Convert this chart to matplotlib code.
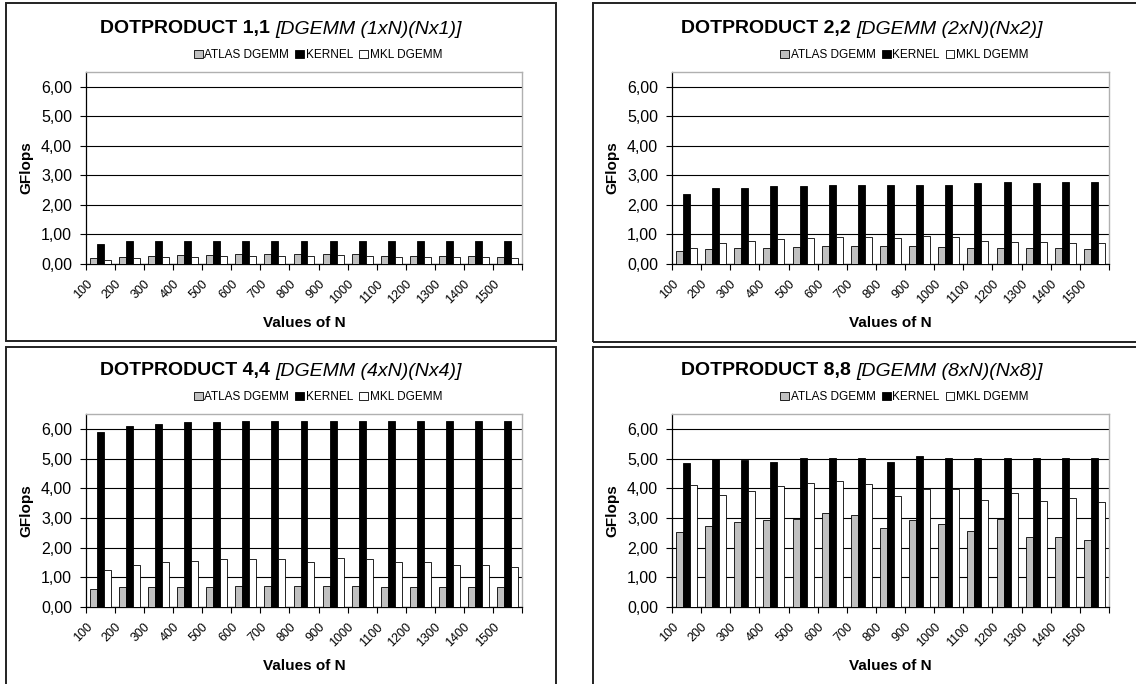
import matplotlib
matplotlib.use("Agg")
import matplotlib.pyplot as plt
from matplotlib.patches import Rectangle, Patch
from matplotlib.ticker import FuncFormatter, FixedLocator
from matplotlib.transforms import ScaledTranslation
import numpy as np

plt.rcParams['font.family'] = ['Liberation Sans', 'DejaVu Sans']

n_labels = ["100", "200", "300", "400", "500", "600", "700", "800",
            "900", "1000", "1100", "1200", "1300", "1400", "1500"]
series_names = ["ATLAS DGEMM", "KERNEL", "MKL DGEMM"]
series_colors = ["#c0c0c0", "#000000", "#ffffff"]

bold_titles = ["DOTPRODUCT 1,1", "DOTPRODUCT 2,2", "DOTPRODUCT 4,4", "DOTPRODUCT 8,8"]
italic_titles = ["[DGEMM (1xN)(Nx1)]", "[DGEMM (2xN)(Nx2)]",
                 "[DGEMM (4xN)(Nx4)]", "[DGEMM (8xN)(Nx8)]"]

atlas_1 = [0.19, 0.25, 0.27, 0.30, 0.31, 0.34, 0.34, 0.34, 0.34, 0.34, 0.28, 0.28, 0.28, 0.27, 0.25]
kernel_1 = [0.69, 0.77, 0.77, 0.79, 0.79, 0.79, 0.79, 0.79, 0.79, 0.79, 0.79, 0.79, 0.79, 0.79, 0.79]
mkl_1 = [0.15, 0.20, 0.24, 0.25, 0.27, 0.28, 0.28, 0.28, 0.30, 0.28, 0.24, 0.24, 0.23, 0.23, 0.20]

atlas_2 = [0.43, 0.51, 0.53, 0.55, 0.56, 0.61, 0.61, 0.60, 0.60, 0.59, 0.54, 0.55, 0.54, 0.53, 0.52]
kernel_2 = [2.36, 2.56, 2.58, 2.64, 2.64, 2.67, 2.66, 2.69, 2.67, 2.69, 2.74, 2.76, 2.75, 2.76, 2.76]
mkl_2 = [0.54, 0.72, 0.77, 0.83, 0.88, 0.91, 0.91, 0.89, 0.94, 0.92, 0.79, 0.76, 0.76, 0.72, 0.70]

atlas_4 = [0.61, 0.67, 0.67, 0.69, 0.69, 0.71, 0.70, 0.70, 0.70, 0.70, 0.69, 0.69, 0.68, 0.68, 0.67]
kernel_4 = [5.91, 6.11, 6.18, 6.23, 6.24, 6.25, 6.26, 6.27, 6.27, 6.28, 6.28, 6.28, 6.28, 6.28, 6.28]
mkl_4 = [1.26, 1.43, 1.51, 1.56, 1.61, 1.61, 1.62, 1.53, 1.64, 1.62, 1.50, 1.50, 1.43, 1.40, 1.34]

atlas_8 = [2.53, 2.74, 2.86, 2.92, 2.98, 3.16, 3.10, 2.65, 2.93, 2.81, 2.56, 2.98, 2.37, 2.35, 2.26]
kernel_8 = [4.85, 5.00, 4.94, 4.87, 5.01, 5.01, 5.01, 4.87, 5.07, 5.01, 5.01, 5.01, 5.01, 5.01, 5.01]
mkl_8 = [4.11, 3.78, 3.91, 4.09, 4.16, 4.23, 4.14, 3.74, 3.97, 3.97, 3.61, 3.84, 3.56, 3.66, 3.52]

panels = [
    (atlas_1, kernel_1, mkl_1),
    (atlas_2, kernel_2, mkl_2),
    (atlas_4, kernel_4, mkl_4),
    (atlas_8, kernel_8, mkl_8),
]

W, H = 1136, 684
fig = plt.figure(figsize=(W / 100, H / 100), dpi=100)

# plot areas (pixel boxes: left, top, right, bottom) and chart frames
plot_boxes = [(86, 72, 522, 264), (672, 72, 1109, 264),
              (86, 414, 522, 607), (672, 414, 1109, 607)]
frames = [(6, 3, 556, 341), (593, 3, 1150, 342),
          (6, 347, 556, 700), (593, 347, 1150, 700)]
title_cx = [281, 862, 281, 862]


def fx(px):
    return px / W


def fy(py):
    return 1 - py / H


for (l, t, r, b) in frames:
    fig.add_artist(Rectangle((fx(l), fy(b)), fx(r - l), (b - t) / H,
                             transform=fig.transFigure, fill=False,
                             edgecolor="#222222", linewidth=1.4, clip_on=False))

comma_fmt = FuncFormatter(lambda v, pos: f"{v:.2f}".replace(".", ","))
x = np.arange(len(n_labels))
bw = 0.24
offsets = [-bw, 0.0, bw]

title_pairs = []
for k, (data, (l, t, r, b)) in enumerate(zip(panels, plot_boxes)):
    ax = fig.add_axes([fx(l), fy(b), fx(r - l), (b - t) / H])
    for s, vals in enumerate(data):
        ax.bar(x + offsets[s], vals, width=bw, color=series_colors[s],
               edgecolor="black", linewidth=0.6, zorder=3)
    ax.set_xlim(-0.5, len(n_labels) - 0.5)
    ax.set_ylim(0, 6.5)
    ax.yaxis.set_major_locator(FixedLocator([0, 1, 2, 3, 4, 5, 6]))
    ax.yaxis.set_major_formatter(comma_fmt)
    ax.grid(axis="y", color="black", linewidth=0.8, zorder=0)
    ax.set_axisbelow(True)
    ax.xaxis.set_major_locator(FixedLocator(np.arange(len(n_labels) + 1) - 0.5))
    ax.set_xticklabels([])
    ax.tick_params(axis="x", direction="out", length=4, width=0.8, color="black")
    ax.tick_params(axis="y", direction="out", length=4, width=0.8, color="black",
                   labelsize=11.5, pad=6)
    for side in ("top", "right"):
        ax.spines[side].set_color("#b0b0b0")
        ax.spines[side].set_linewidth(1.0)
    for side in ("left", "bottom"):
        ax.spines[side].set_color("black")
        ax.spines[side].set_linewidth(0.9)

    # rotated category labels
    off = ScaledTranslation(-6 / 100, -14 / 100, fig.dpi_scale_trans)
    for i, lab in enumerate(n_labels):
        ax.text(i, 0, lab, transform=ax.get_xaxis_transform() + off,
                rotation=45, ha="right", va="top", fontsize=9)

    pcx = (l + r) / 2
    fig.text(fx(pcx), fy(b + 59), "Values of N", ha="center", va="center",
             fontsize=11, fontweight="bold")
    fig.text(fx(l - 60), fy((t + b) / 2), "GFlops", ha="center", va="center",
             rotation=90, fontsize=11, fontweight="bold")

    handles = [Patch(facecolor=c, edgecolor="black", linewidth=0.6) for c in series_colors]
    fig.legend(handles, series_names, ncol=3, frameon=False, loc="center",
               bbox_to_anchor=(fx(pcx + 14), fy(t - 17)),
               prop={"family": ["Liberation Sans Narrow", "Liberation Sans"], "size": 8.5},
               handlelength=0.75, handleheight=0.75, handletextpad=0.15,
               columnspacing=0.5, borderpad=0, borderaxespad=0)

    ty = t - 43
    tb = fig.text(0, fy(ty), bold_titles[k] + " ", ha="left", va="center",
                  fontsize=14, fontweight="bold")
    ti = fig.text(0, fy(ty), italic_titles[k], ha="left", va="center",
                  fontsize=14, fontstyle="italic")
    title_pairs.append((tb, ti, title_cx[k]))

# center each two-part title within its chart frame
renderer = fig.canvas.get_renderer()
for tb, ti, cx in title_pairs:
    wb = tb.get_window_extent(renderer).width
    wi = ti.get_window_extent(renderer).width
    x0 = cx - (wb + wi) / 2
    tb.set_x(fx(x0))
    ti.set_x(fx(x0 + wb))

fig.savefig("out.png", dpi=100)
